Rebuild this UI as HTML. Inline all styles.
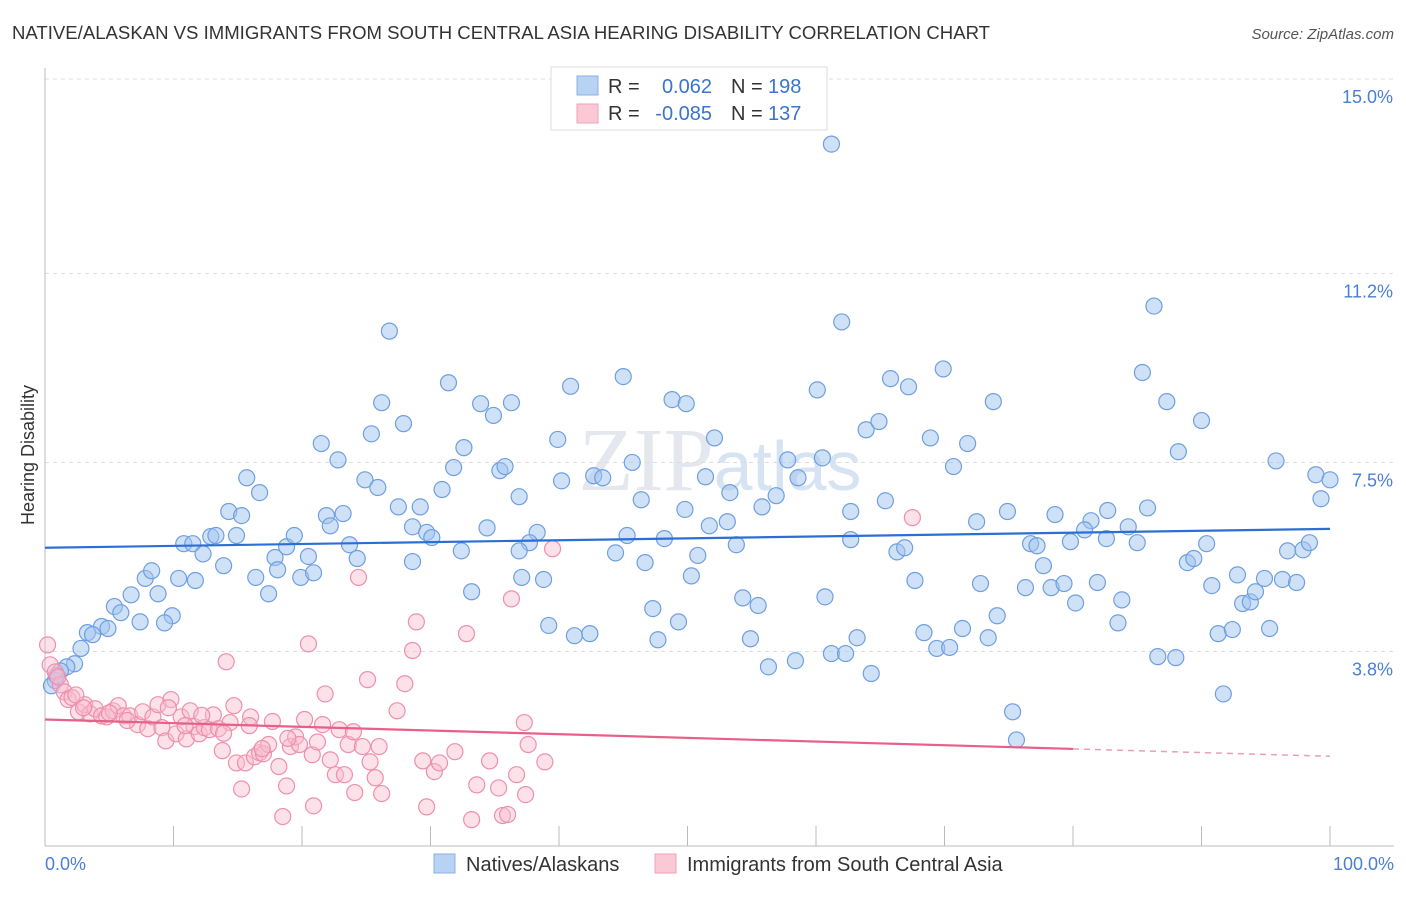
<!DOCTYPE html>
<html><head><meta charset="utf-8"><style>
body{margin:0;background:#fff;font-family:"Liberation Sans",sans-serif;}
</style></head><body>
<svg id="chart" width="1406" height="892" xmlns="http://www.w3.org/2000/svg">
<text x="12" y="39" font-size="18" fill="#333" textLength="978" lengthAdjust="spacingAndGlyphs">NATIVE/ALASKAN VS IMMIGRANTS FROM SOUTH CENTRAL ASIA HEARING DISABILITY CORRELATION CHART</text>
<text x="1394" y="39" font-size="15" fill="#555" font-style="italic" text-anchor="end">Source: ZipAtlas.com</text>
<text x="720" y="490" font-size="90" fill="#e4e8ee" text-anchor="middle" font-family="Liberation Serif,serif">ZIP<tspan fill="#d6e3f3" font-family="Liberation Sans,sans-serif" font-size="70">atlas</tspan></text>
<g id="grid"></g>
<g id="pts"></g>
<g id="lines"></g>
<text transform="translate(34,455) rotate(-90)" font-size="18" fill="#333" text-anchor="middle">Hearing Disability</text>
<text x="45" y="870" font-size="18" fill="#4a7fd4">0.0%</text>
<text x="1394" y="870" font-size="18" fill="#4a7fd4" text-anchor="end">100.0%</text>
<g>
<rect x="551" y="67" width="276" height="63" fill="#fff" stroke="#ddd"/>
<rect x="577" y="76" width="21" height="19" fill="#b8d2f3" stroke="#88b0e6"/>
<rect x="577" y="104" width="21" height="19" fill="#fbc8d6" stroke="#f0a0b8"/>
<text x="608" y="93" font-size="20" fill="#333">R =</text>
<text x="712" y="93" font-size="20" fill="#3a74cc" text-anchor="end">0.062</text>
<text x="731" y="93" font-size="20" fill="#333">N =</text>
<text x="768" y="93" font-size="20" fill="#3a74cc">198</text>
<text x="608" y="120" font-size="20" fill="#333">R =</text>
<text x="712" y="120" font-size="20" fill="#3a74cc" text-anchor="end">-0.085</text>
<text x="731" y="120" font-size="20" fill="#333">N =</text>
<text x="768" y="120" font-size="20" fill="#3a74cc">137</text>
</g>
<g>
<rect x="434" y="854" width="21" height="19" fill="#b8d2f3" stroke="#88b0e6"/>
<text x="466" y="871" font-size="20" fill="#333">Natives/Alaskans</text>
<rect x="655" y="854" width="21" height="19" fill="#fbc8d6" stroke="#f0a0b8"/>
<text x="687" y="871" font-size="20" fill="#333">Immigrants from South Central Asia</text>
</g>
</svg>
<script>
const yTicks=[3.8,7.5,11.2,15.0];
const yTickLabels=["3.8%","7.5%","11.2%","15.0%"];
const xTicks=[0,10,20,30,40,50,60,70,80,90,100];
const blueX=[61.2,26.8,86.3,62.0,31.4,40.9,45.0,26.2,33.9,36.3,48.8,49.9,60.1,65.8,67.2,69.9,73.8,85.4,87.3,90.0,88.2,95.8,98.9,100,99.3,21.5,27.9,25.4,32.6,34.9,22.8,31.8,35.4,35.8,39.9,42.7,40.2,43.4,45.7,52.1,57.8,60.5,63.9,64.9,68.9,70.7,71.8,51.4,58.6,15.7,16.7,24.9,25.9,30.9,14.3,15.3,21.9,23.2,22.2,27.5,29.2,28.6,29.7,30.1,34.4,36.9,38.3,37.7,46.4,49.8,53.3,55.8,56.9,53.1,51.7,65.4,62.7,72.5,74.9,78.6,81.4,82.7,85.8,84.3,80.9,10.8,11.5,12.9,13.3,14.9,12.3,13.9,11.7,10.4,7.8,8.3,6.7,8.8,5.4,5.9,4.4,4.9,7.4,9.9,9.3,3.3,3.7,2.8,2.3,1.7,1.2,0.8,0.5,0.9,16.4,17.4,17.9,18.1,18.8,19.4,20.5,19.9,20.9,23.7,24.3,28.6,32.4,33.2,36.9,37.1,38.8,39.2,41.2,42.4,44.4,45.3,46.7,48.2,47.3,47.7,49.3,50.3,50.8,53.8,54.3,55.5,54.9,56.3,58.4,60.7,61.2,62.3,63.2,64.3,62.7,66.3,66.9,67.7,68.4,69.4,70.4,71.4,72.8,73.4,74.1,75.3,75.6,76.3,76.7,77.2,77.7,78.3,79.3,79.8,80.2,81.9,82.6,83.8,83.5,85.0,86.6,88.0,88.9,89.4,90.4,90.8,91.3,92.4,91.7,92.8,93.2,93.8,94.2,94.9,95.3,96.3,96.7,97.4,97.9,98.4];
const blueY=[13.73,10.07,10.56,10.25,9.06,8.99,9.18,8.67,8.65,8.67,8.73,8.65,8.92,9.14,8.98,9.33,8.69,9.26,8.69,8.32,7.71,7.53,7.26,7.16,6.79,7.87,8.26,8.06,7.79,8.42,7.55,7.40,7.34,7.42,7.95,7.24,7.14,7.20,7.50,7.98,7.55,7.59,8.14,8.30,7.98,7.42,7.87,7.22,7.20,7.20,6.91,7.16,7.01,6.97,6.54,6.46,6.46,6.50,6.26,6.63,6.63,6.24,6.13,6.03,6.22,6.83,6.13,5.93,6.77,6.58,6.91,6.63,6.85,6.34,6.26,6.75,6.54,6.34,6.54,6.48,6.36,6.56,6.61,6.24,6.18,5.91,5.91,6.05,6.07,6.07,5.71,5.48,5.19,5.23,5.23,5.38,4.91,4.93,4.68,4.56,4.29,4.25,4.38,4.50,4.36,4.17,4.13,3.86,3.56,3.50,3.42,3.23,3.13,3.33,5.25,4.93,5.64,5.40,5.85,6.07,5.66,5.25,5.34,5.89,5.62,5.56,5.77,4.97,5.77,5.25,5.21,4.31,4.11,4.15,5.73,6.07,5.54,6.01,4.64,4.03,4.38,5.28,5.68,5.89,4.85,4.70,4.05,3.50,3.62,4.87,3.76,3.76,4.07,3.37,5.99,5.75,5.83,5.19,4.17,3.86,3.88,4.25,5.13,4.07,4.50,2.62,2.07,5.05,5.91,5.87,5.48,5.05,5.13,5.95,4.75,5.15,6.01,4.81,4.36,5.93,3.70,3.68,5.54,5.62,5.91,5.09,4.15,4.23,2.97,5.30,4.74,4.77,4.97,5.23,4.25,5.21,5.77,5.15,5.79,5.93];
const pinkX=[0.2,0.4,0.8,1.2,1.5,1.8,2.1,2.6,3.1,3.5,3.9,4.4,4.8,5.3,5.7,6.1,6.6,7.2,7.6,8.0,8.4,8.8,9.1,9.4,9.8,10.2,10.6,11.0,11.3,11.6,12.0,12.4,12.8,13.1,13.5,13.8,14.1,14.4,14.7,14.9,15.3,15.6,16.0,16.3,16.7,17.0,17.4,17.7,18.2,18.5,18.8,19.1,19.5,19.8,20.2,20.5,20.8,20.9,21.2,21.6,21.8,22.2,22.6,22.9,23.3,23.6,24.0,24.1,24.4,24.7,25.1,25.3,25.7,26.0,26.2,27.4,28.0,28.6,28.9,29.4,29.7,30.3,30.7,31.9,32.8,33.2,33.6,34.6,35.3,35.6,36.0,36.3,36.7,37.3,37.4,37.6,38.9,39.5,67.5,1.0,2.4,3.0,5.0,6.4,9.6,10.9,12.2,13.9,15.9,16.9,18.9];
const pinkY=[3.93,3.54,3.40,3.15,3.01,2.86,2.90,2.62,2.76,2.58,2.68,2.54,2.52,2.64,2.74,2.54,2.54,2.37,2.62,2.29,2.52,2.76,2.31,2.05,2.86,2.19,2.52,2.09,2.64,2.33,2.19,2.31,2.27,2.56,2.29,1.86,3.60,2.41,2.74,1.62,1.11,1.62,2.52,1.74,1.82,1.80,1.98,2.43,1.55,0.57,1.17,1.94,2.13,1.98,2.47,3.95,1.78,0.78,2.03,2.37,2.97,1.68,1.39,2.27,1.39,1.98,2.23,1.04,5.25,1.94,3.25,1.64,1.33,1.94,1.02,2.64,3.17,3.82,4.38,1.66,0.76,1.45,1.62,1.84,4.15,0.51,1.19,1.66,1.13,0.59,0.61,4.83,1.39,2.41,1.00,1.98,1.64,5.81,6.42,3.3,2.95,2.7,2.6,2.45,2.7,2.35,2.55,2.2,2.35,1.9,2.1];
const blueTrend=[5.83,6.20];
const pinkTrend=[2.47,1.75];
const NS="http://www.w3.org/2000/svg";
const xs=v=>45+v*12.85;
const ys=v=>845.7-v*51.1;
const grid=document.getElementById('grid');
function mk(tag,attrs,parent){const e=document.createElementNS(NS,tag);for(const k in attrs)e.setAttribute(k,attrs[k]);parent.appendChild(e);return e;}
yTicks.forEach((t,i)=>{
 const y=i===3?79:ys(t);
 const l=mk('line',{x1:45,x2:1394,y1:y,y2:y,stroke:'#ddd','stroke-dasharray':'4,4'},grid);
 
 
 const tx=mk('text',{x:1393,y:y+24,'font-size':18,fill:'#4a7fd4','text-anchor':'end'},grid);
 tx.textContent=yTickLabels[i];
 
 
});
const ax=mk('line',{x1:45,x2:45,y1:68,y2:846,stroke:'#bbb'},grid);


const bx=mk('line',{x1:45,x2:1394,y1:846,y2:846,stroke:'#bbb'},grid);


xTicks.forEach(t=>{
 const tk=mk('line',{x1:xs(t),x2:xs(t),y1:826,y2:846,stroke:'#bbb'},grid);
 
 
});
const pts=document.getElementById('pts');
blueX.forEach((x,i)=>{
 const c=mk('circle',{cx:xs(x),cy:ys(blueY[i]),r:8,fill:'rgba(160,196,240,0.5)',stroke:'#6f9fe0','stroke-width':1.2},pts);
 
 
});
pinkX.forEach((x,i)=>{
 const c=mk('circle',{cx:xs(x),cy:ys(pinkY[i]),r:8,fill:'rgba(248,188,206,0.45)',stroke:'#ee8fae','stroke-width':1.2},pts);
 
 
});
const lines=document.getElementById('lines');
const bl=mk('line',{x1:xs(0),y1:ys(blueTrend[0]),x2:xs(100),y2:ys(blueTrend[1]),stroke:'#2b6fd6','stroke-width':2.2},lines);


const pv=t=>pinkTrend[0]+(pinkTrend[1]-pinkTrend[0])*t/100;
const pl=mk('line',{x1:xs(0),y1:ys(pv(0)),x2:xs(80),y2:ys(pv(80)),stroke:'#e8608a','stroke-width':2.2},lines);


const pd=mk('line',{x1:xs(80),y1:ys(pv(80)),x2:xs(100),y2:ys(pv(100)),stroke:'#e8a0b6','stroke-width':1.5,'stroke-dasharray':'6,5'},lines);


</script>
</body></html>
